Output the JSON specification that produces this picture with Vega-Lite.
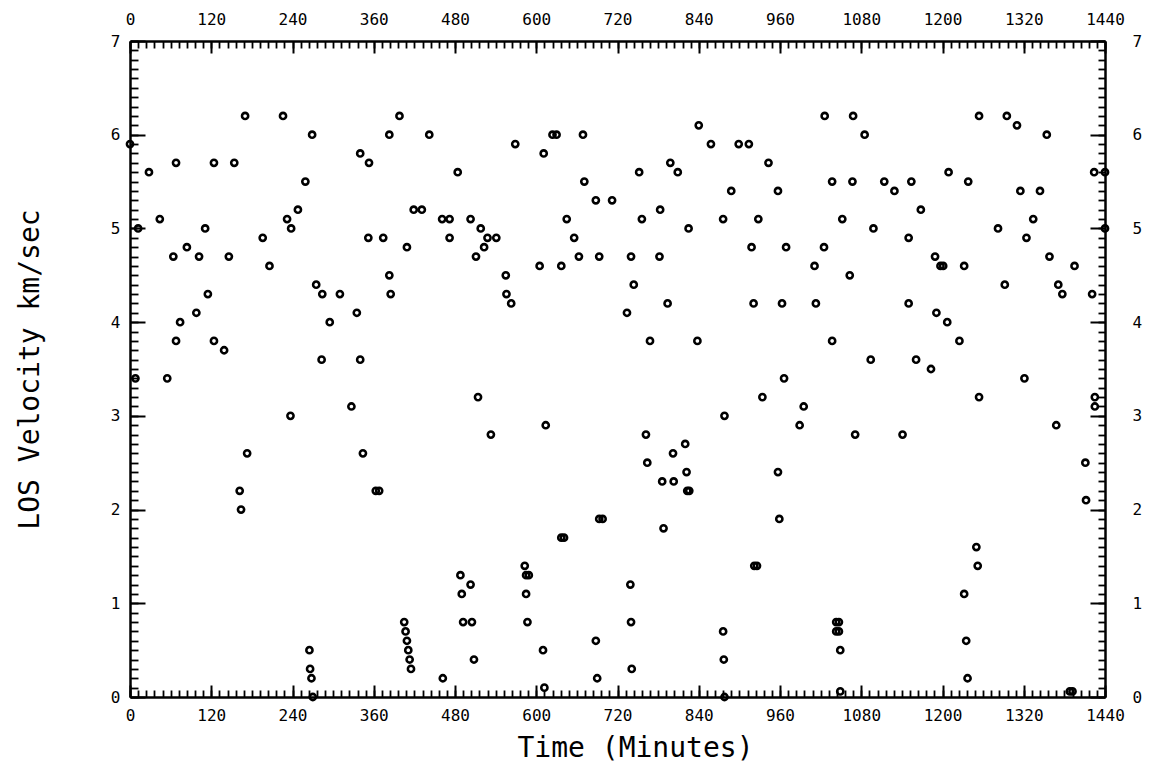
{
  "$schema": "https://vega.github.io/schema/vega-lite/v6.json",
  "width": 975,
  "height": 656,
  "autosize": {"type": "none"},
  "padding": {"left": 130, "top": 41, "right": 53, "bottom": 70},
  "background": "white",
  "config": {"view": {"stroke": null}},
  "data": {"values": [
    {"t":0,"v":5.9},{"t":12,"v":5.0},{"t":8,"v":3.4},
    {"t":170,"v":6.2},{"t":226,"v":6.2},{"t":68,"v":5.7},{"t":124,"v":5.7},{"t":154,"v":5.7},{"t":28,"v":5.6},{"t":44,"v":5.1},{"t":111,"v":5.0},{"t":232,"v":5.1},{"t":238,"v":5.0},{"t":248,"v":5.2},{"t":196,"v":4.9},{"t":84,"v":4.8},{"t":64,"v":4.7},{"t":102,"v":4.7},{"t":146,"v":4.7},{"t":206,"v":4.6},{"t":115,"v":4.3},{"t":98,"v":4.1},{"t":74,"v":4.0},{"t":68,"v":3.8},{"t":124,"v":3.8},{"t":139,"v":3.7},{"t":55,"v":3.4},
    {"t":237,"v":3.0},{"t":173,"v":2.6},{"t":162,"v":2.2},{"t":164,"v":2.0},
    {"t":398,"v":6.2},{"t":269,"v":6.0},{"t":383,"v":6.0},{"t":442,"v":6.0},{"t":340,"v":5.8},{"t":353,"v":5.7},{"t":484,"v":5.6},{"t":259,"v":5.5},{"t":419,"v":5.2},{"t":431,"v":5.2},{"t":461,"v":5.1},{"t":472,"v":5.1},{"t":472,"v":4.9},{"t":352,"v":4.9},{"t":374,"v":4.9},{"t":409,"v":4.8},{"t":383,"v":4.5},{"t":385,"v":4.3},{"t":275,"v":4.4},{"t":284,"v":4.3},{"t":310,"v":4.3},{"t":335,"v":4.1},{"t":295,"v":4.0},{"t":283,"v":3.6},{"t":340,"v":3.6},
    {"t":327,"v":3.1},{"t":344,"v":2.6},{"t":363,"v":2.2},{"t":368,"v":2.2},{"t":488,"v":1.3},{"t":490,"v":1.1},{"t":492,"v":0.8},{"t":265,"v":0.5},{"t":266,"v":0.3},{"t":268,"v":0.2},{"t":270,"v":0.0},{"t":405,"v":0.8},{"t":407,"v":0.7},{"t":409,"v":0.6},{"t":411,"v":0.5},{"t":413,"v":0.4},{"t":415,"v":0.3},{"t":462,"v":0.2},
    {"t":624,"v":6.0},{"t":630,"v":6.0},{"t":669,"v":6.0},{"t":569,"v":5.9},{"t":611,"v":5.8},{"t":671,"v":5.5},{"t":688,"v":5.3},{"t":712,"v":5.3},{"t":503,"v":5.1},{"t":645,"v":5.1},{"t":518,"v":5.0},{"t":528,"v":4.9},{"t":541,"v":4.9},{"t":656,"v":4.9},{"t":523,"v":4.8},{"t":511,"v":4.7},{"t":663,"v":4.7},{"t":693,"v":4.7},{"t":605,"v":4.6},{"t":637,"v":4.6},{"t":555,"v":4.5},{"t":556,"v":4.3},{"t":563,"v":4.2},{"t":734,"v":4.1},
    {"t":514,"v":3.2},{"t":533,"v":2.8},{"t":614,"v":2.9},{"t":693,"v":1.9},{"t":698,"v":1.9},{"t":637,"v":1.7},{"t":641,"v":1.7},{"t":503,"v":1.2},{"t":505,"v":0.8},{"t":508,"v":0.4},{"t":583,"v":1.4},{"t":585,"v":1.3},{"t":589,"v":1.3},{"t":585,"v":1.1},{"t":587,"v":0.8},{"t":610,"v":0.5},{"t":612,"v":0.1},{"t":688,"v":0.6},{"t":690,"v":0.2},{"t":739,"v":1.2},{"t":740,"v":0.8},{"t":741,"v":0.3},
    {"t":840,"v":6.1},{"t":858,"v":5.9},{"t":899,"v":5.9},{"t":914,"v":5.9},{"t":798,"v":5.7},{"t":809,"v":5.6},{"t":752,"v":5.6},{"t":943,"v":5.7},{"t":888,"v":5.4},{"t":957,"v":5.4},{"t":783,"v":5.2},{"t":756,"v":5.1},{"t":876,"v":5.1},{"t":928,"v":5.1},{"t":825,"v":5.0},{"t":740,"v":4.7},{"t":782,"v":4.7},{"t":918,"v":4.8},{"t":969,"v":4.8},{"t":744,"v":4.4},{"t":794,"v":4.2},{"t":921,"v":4.2},{"t":963,"v":4.2},{"t":768,"v":3.8},{"t":838,"v":3.8},{"t":966,"v":3.4},
    {"t":934,"v":3.2},{"t":878,"v":3.0},{"t":762,"v":2.8},{"t":820,"v":2.7},{"t":802,"v":2.6},{"t":764,"v":2.5},{"t":822,"v":2.4},{"t":786,"v":2.3},{"t":803,"v":2.3},{"t":823,"v":2.2},{"t":826,"v":2.2},{"t":788,"v":1.8},{"t":957,"v":2.4},{"t":959,"v":1.9},{"t":922,"v":1.4},{"t":926,"v":1.4},{"t":876,"v":0.7},{"t":877,"v":0.4},{"t":878,"v":0.0},
    {"t":1026,"v":6.2},{"t":1068,"v":6.2},{"t":1085,"v":6.0},{"t":1209,"v":5.6},{"t":1037,"v":5.5},{"t":1067,"v":5.5},{"t":1114,"v":5.5},{"t":1154,"v":5.5},{"t":1129,"v":5.4},{"t":1168,"v":5.2},{"t":1052,"v":5.1},{"t":1098,"v":5.0},{"t":1150,"v":4.9},{"t":1025,"v":4.8},{"t":1011,"v":4.6},{"t":1063,"v":4.5},{"t":1189,"v":4.7},{"t":1197,"v":4.6},{"t":1201,"v":4.6},{"t":1013,"v":4.2},{"t":1150,"v":4.2},{"t":1191,"v":4.1},{"t":1207,"v":4.0},{"t":1037,"v":3.8},{"t":1094,"v":3.6},{"t":1161,"v":3.6},{"t":1183,"v":3.5},
    {"t":995,"v":3.1},{"t":989,"v":2.9},{"t":1071,"v":2.8},{"t":1141,"v":2.8},{"t":1043,"v":0.8},{"t":1047,"v":0.8},{"t":1043,"v":0.7},{"t":1047,"v":0.7},{"t":1049,"v":0.5},{"t":1049,"v":0.06},
    {"t":1254,"v":6.2},{"t":1295,"v":6.2},{"t":1310,"v":6.1},{"t":1354,"v":6.0},{"t":1424,"v":5.6},{"t":1440,"v":5.6},{"t":1238,"v":5.5},{"t":1315,"v":5.4},{"t":1344,"v":5.4},{"t":1334,"v":5.1},{"t":1282,"v":5.0},{"t":1324,"v":4.9},{"t":1440,"v":5.0},{"t":1358,"v":4.7},{"t":1232,"v":4.6},{"t":1395,"v":4.6},{"t":1292,"v":4.4},{"t":1371,"v":4.4},{"t":1377,"v":4.3},{"t":1421,"v":4.3},{"t":1225,"v":3.8},{"t":1321,"v":3.4},
    {"t":1254,"v":3.2},{"t":1425,"v":3.2},{"t":1425,"v":3.1},{"t":1368,"v":2.9},{"t":1411,"v":2.5},{"t":1412,"v":2.1},{"t":1250,"v":1.6},{"t":1252,"v":1.4},{"t":1232,"v":1.1},{"t":1235,"v":0.6},{"t":1237,"v":0.2},{"t":1388,"v":0.06},{"t":1392,"v":0.06}
  ]},
  "resolve": {"axis": {"x": "independent", "y": "independent"}},
  "layer": [
    {
      "mark": {"type": "point", "shape": "circle", "filled": false, "size": 38, "strokeWidth": 2.6, "color": "black", "opacity": 1},
      "encoding": {
        "x": {"field": "t", "type": "quantitative", "scale": {"domain": [0, 1440], "nice": false, "zero": false},
          "axis": {"orient": "bottom", "values": [0,120,240,360,480,600,720,840,960,1080,1200,1320,1440], "format": "d", "grid": false,
            "tickSize": -12, "tickWidth": 2, "tickColor": "black", "domainColor": "black", "domainWidth": 2.5,
            "labelPadding": 22, "labelFont": "DejaVu Sans Mono", "labelFontSize": 16, "labelColor": "black", "labelFlush": false, "labelOverlap": false,
            "title": "Time (Minutes)", "titleFont": "DejaVu Sans Mono", "titleFontSize": 28, "titleFontWeight": "normal", "titleColor": "black",
            "titleX": 505, "titleY": 51, "titleBaseline": "middle", "titleAlign": "center"}},
        "y": {"field": "v", "type": "quantitative", "scale": {"domain": [0, 7], "nice": false, "zero": false},
          "axis": {"orient": "left", "values": [0,1,2,3,4,5,6,7], "format": "d", "grid": false,
            "tickSize": -15, "tickWidth": 2, "tickColor": "black", "domainColor": "black", "domainWidth": 2.5,
            "labelPadding": 25, "labelFont": "DejaVu Sans Mono", "labelFontSize": 16, "labelColor": "black", "labelFlush": false, "labelOverlap": false,
            "title": "LOS Velocity km/sec", "titleFont": "DejaVu Sans Mono", "titleFontSize": 28, "titleFontWeight": "normal", "titleColor": "black",
            "titleX": -100, "titleY": 328, "titleAngle": -90, "titleBaseline": "middle", "titleAlign": "center"}}
      }
    },
    {
      "mark": {"type": "point", "opacity": 0},
      "encoding": {
        "x": {"field": "t", "type": "quantitative",
          "axis": {"orient": "top", "values": [0,120,240,360,480,600,720,840,960,1080,1200,1320,1440], "format": "d", "grid": false,
            "tickSize": -12, "tickWidth": 2, "tickColor": "black", "domainColor": "black", "domainWidth": 2.5,
            "labelPadding": 26, "labelFont": "DejaVu Sans Mono", "labelFontSize": 16, "labelColor": "black", "labelFlush": false, "labelOverlap": false,
            "title": null}},
        "y": {"field": "v", "type": "quantitative",
          "axis": {"orient": "right", "values": [0,1,2,3,4,5,6,7], "format": "d", "grid": false,
            "tickSize": -15, "tickWidth": 2, "tickColor": "black", "domainColor": "black", "domainWidth": 2.5,
            "labelPadding": 42, "labelFont": "DejaVu Sans Mono", "labelFontSize": 16, "labelColor": "black", "labelFlush": false, "labelOverlap": false,
            "title": null}}
      }
    },
    {
      "mark": {"type": "point", "opacity": 0},
      "encoding": {
        "x": {"field": "t", "type": "quantitative",
          "axis": {"orient": "bottom", "values": [0,12,24,36,48,60,72,84,96,108,120,132,144,156,168,180,192,204,216,228,240,252,264,276,288,300,312,324,336,348,360,372,384,396,408,420,432,444,456,468,480,492,504,516,528,540,552,564,576,588,600,612,624,636,648,660,672,684,696,708,720,732,744,756,768,780,792,804,816,828,840,852,864,876,888,900,912,924,936,948,960,972,984,996,1008,1020,1032,1044,1056,1068,1080,1092,1104,1116,1128,1140,1152,1164,1176,1188,1200,1212,1224,1236,1248,1260,1272,1284,1296,1308,1320,1332,1344,1356,1368,1380,1392,1404,1416,1428,1440],
            "grid": false, "labels": false, "domain": false, "tickSize": -7, "tickWidth": 1.8, "tickColor": "black", "title": null}},
        "y": {"field": "v", "type": "quantitative",
          "axis": {"orient": "left", "values": [0,0.1,0.2,0.3,0.4,0.5,0.6,0.7,0.8,0.9,1,1.1,1.2,1.3,1.4,1.5,1.6,1.7,1.8,1.9,2,2.1,2.2,2.3,2.4,2.5,2.6,2.7,2.8,2.9,3,3.1,3.2,3.3,3.4,3.5,3.6,3.7,3.8,3.9,4,4.1,4.2,4.3,4.4,4.5,4.6,4.7,4.8,4.9,5,5.1,5.2,5.3,5.4,5.5,5.6,5.7,5.8,5.9,6,6.1,6.2,6.3,6.4,6.5,6.6,6.7,6.8,6.9,7],
            "grid": false, "labels": false, "domain": false, "tickSize": -8, "tickWidth": 1.8, "tickColor": "black", "title": null}}
      }
    },
    {
      "mark": {"type": "point", "opacity": 0},
      "encoding": {
        "x": {"field": "t", "type": "quantitative",
          "axis": {"orient": "top", "values": [0,12,24,36,48,60,72,84,96,108,120,132,144,156,168,180,192,204,216,228,240,252,264,276,288,300,312,324,336,348,360,372,384,396,408,420,432,444,456,468,480,492,504,516,528,540,552,564,576,588,600,612,624,636,648,660,672,684,696,708,720,732,744,756,768,780,792,804,816,828,840,852,864,876,888,900,912,924,936,948,960,972,984,996,1008,1020,1032,1044,1056,1068,1080,1092,1104,1116,1128,1140,1152,1164,1176,1188,1200,1212,1224,1236,1248,1260,1272,1284,1296,1308,1320,1332,1344,1356,1368,1380,1392,1404,1416,1428,1440],
            "grid": false, "labels": false, "domain": false, "tickSize": -7, "tickWidth": 1.8, "tickColor": "black", "title": null}},
        "y": {"field": "v", "type": "quantitative",
          "axis": {"orient": "right", "values": [0,0.1,0.2,0.3,0.4,0.5,0.6,0.7,0.8,0.9,1,1.1,1.2,1.3,1.4,1.5,1.6,1.7,1.8,1.9,2,2.1,2.2,2.3,2.4,2.5,2.6,2.7,2.8,2.9,3,3.1,3.2,3.3,3.4,3.5,3.6,3.7,3.8,3.9,4,4.1,4.2,4.3,4.4,4.5,4.6,4.7,4.8,4.9,5,5.1,5.2,5.3,5.4,5.5,5.6,5.7,5.8,5.9,6,6.1,6.2,6.3,6.4,6.5,6.6,6.7,6.8,6.9,7],
            "grid": false, "labels": false, "domain": false, "tickSize": -7, "tickWidth": 1.8, "tickColor": "black", "title": null}}
      }
    }
  ]
}
